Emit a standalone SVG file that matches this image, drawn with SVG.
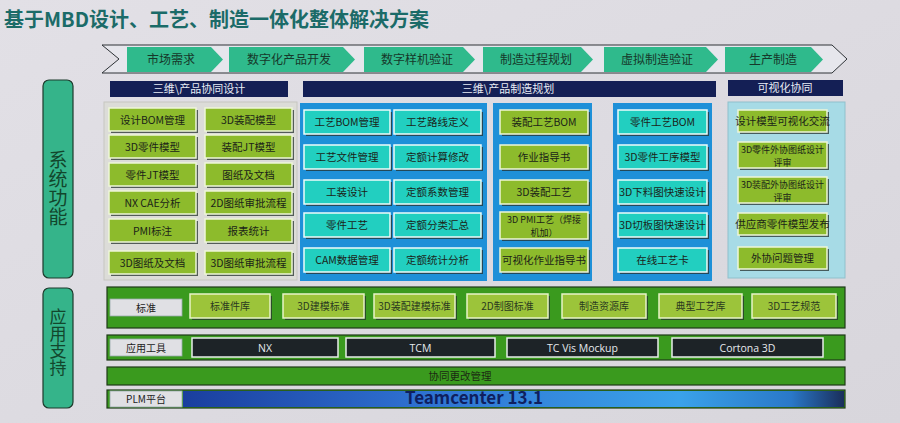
<svg xmlns="http://www.w3.org/2000/svg" width="900" height="423" viewBox="0 0 900 423">
<defs>
<linearGradient id="bg" x1="0" y1="0" x2="1" y2="1">
<stop offset="0" stop-color="#e2e0e6"/>
<stop offset="1" stop-color="#d8d6dc"/>
</linearGradient>
<linearGradient id="plm" x1="0" y1="0" x2="1" y2="0">
<stop offset="0" stop-color="#1a3e9e"/>
<stop offset="0.35" stop-color="#2e70d0"/>
<stop offset="0.75" stop-color="#3aa2ea"/>
<stop offset="0.92" stop-color="#2a78c8"/>
<stop offset="1" stop-color="#1a2e5a"/>
</linearGradient>
<style>
text{font-family:"Noto Sans CJK SC","Noto Sans",sans-serif;text-anchor:middle;}
.title{font-size:20px;font-weight:bold;fill:#1b6b68;text-anchor:start;}
.chev{fill:#2fba8c;}
.chevt{font-size:12px;fill:#16382a;}
.navy{fill:#141f55;}
.navyt{font-size:11px;fill:#e8ecf4;}
.side{fill:#35b48a;stroke:#1d3a2c;stroke-width:1.2;}
.sidet{fill:#12462c;writing-mode:vertical-rl;}
.sh{fill:#26312e;opacity:.75;}
.gb{fill:#8dbb2c;stroke:#eef6d8;stroke-width:1.5;}
.cb{fill:#22cfc0;stroke:#eefcfa;stroke-width:1.5;}
.bt{font-size:10.5px;fill:#1b2418;}
.bt2{font-size:9px;fill:#1b2418;}
.bp{fill:#1e90d8;}
.lbp{fill:#a7dbe6;stroke:#8fc0cc;stroke-width:1;}
.band{fill:#3a9a1e;stroke:#1f3a18;stroke-width:1.2;}
.lab{fill:#e0e0e4;stroke:#9aa;stroke-width:.8;}
.labt{font-size:10px;fill:#222;}
.sb{fill:#9cc43a;stroke:#e8f3c8;stroke-width:1.5;}
.st{font-size:10px;fill:#2a3a20;}
.db{fill:#1d2327;stroke:#e8eeea;stroke-width:1.5;}
.dt{font-size:10.5px;fill:#e6eaee;font-family:"Open Sans","Liberation Sans","Noto Sans CJK SC",sans-serif;}
</style>
</defs>
<rect x="0" y="0" width="900" height="423" fill="url(#bg)"/>
<text class="title" x="4" y="27">基于MBD设计、工艺、制造一体化整体解决方案</text>

<g id="process">
<polygon points="102,45 832,45 847,59 832,73 102,73 119,59" fill="#e6e6ec" stroke="#2e3236" stroke-width="1"/>
<g id="p1"><polygon class="chev" points="127,47 211,47 223,59.5 211,72 127,72"/><text class="chevt" x="171" y="64">市场需求</text></g>
<g id="p2"><polygon class="chev" points="229,47 343,47 355,59.5 343,72 229,72"/><text class="chevt" x="289" y="64">数字化产品开发</text></g>
<g id="p3"><polygon class="chev" points="364,47 463,47 475,59.5 463,72 364,72"/><text class="chevt" x="417" y="64">数字样机验证</text></g>
<g id="p4"><polygon class="chev" points="483,47 581,47 593,59.5 581,72 483,72"/><text class="chevt" x="536" y="64">制造过程规划</text></g>
<g id="p5"><polygon class="chev" points="604,47 706,47 718,59.5 706,72 604,72"/><text class="chevt" x="657" y="64">虚拟制造验证</text></g>
<g id="p6"><polygon class="chev" points="725,47 811,47 823,59.5 811,72 725,72"/><text class="chevt" x="773" y="64">生产制造</text></g>
</g>

<g id="headers">
<g id="h1"><rect class="navy" x="110" y="81" width="178" height="16"/><text class="navyt" x="199" y="93">三维\产品协同设计</text></g>
<g id="h2"><rect class="navy" x="303" y="81" width="413" height="16"/><text class="navyt" x="508" y="93">三维\产品制造规划</text></g>
<g id="h3"><rect class="navy" x="728" y="80" width="115" height="16"/><text class="navyt" x="785" y="92">可视化协同</text></g>
</g>

<g id="sys">
<rect class="side" x="43" y="80" width="30" height="198" rx="6"/>
<text class="sidet" x="58" y="188" font-size="19">系统功能</text>
</g>

<g id="design">
<rect x="104" y="102" width="193" height="178" fill="#dcdcd8" stroke="#c6c6c0" stroke-width="1"/>
<g id="d1"><rect class="sh" x="111" y="110" width="87" height="23"/><rect class="gb" x="109" y="108" width="87" height="23"/><text class="bt" x="152.5" y="123.5">设计BOM管理</text></g>
<g id="d2"><rect class="sh" x="207" y="110" width="87" height="23"/><rect class="gb" x="205" y="108" width="87" height="23"/><text class="bt" x="248.5" y="123.5">3D装配模型</text></g>
<g id="d3"><rect class="sh" x="111" y="137" width="87" height="23"/><rect class="gb" x="109" y="135" width="87" height="23"/><text class="bt" x="152.5" y="150.5">3D零件模型</text></g>
<g id="d4"><rect class="sh" x="207" y="137" width="87" height="23"/><rect class="gb" x="205" y="135" width="87" height="23"/><text class="bt" x="248.5" y="150.5">装配JT模型</text></g>
<g id="d5"><rect class="sh" x="111" y="165" width="87" height="23"/><rect class="gb" x="109" y="163" width="87" height="23"/><text class="bt" x="152.5" y="178.5">零件JT模型</text></g>
<g id="d6"><rect class="sh" x="207" y="165" width="87" height="23"/><rect class="gb" x="205" y="163" width="87" height="23"/><text class="bt" x="248.5" y="178.5">图纸及文档</text></g>
<g id="d7"><rect class="sh" x="111" y="193" width="87" height="23"/><rect class="gb" x="109" y="191" width="87" height="23"/><text class="bt" x="152.5" y="206.5">NX CAE分析</text></g>
<g id="d8"><rect class="sh" x="207" y="193" width="87" height="23"/><rect class="gb" x="205" y="191" width="87" height="23"/><text class="bt" x="248.5" y="206.5">2D图纸审批流程</text></g>
<g id="d9"><rect class="sh" x="111" y="221" width="87" height="23"/><rect class="gb" x="109" y="219" width="87" height="23"/><text class="bt" x="152.5" y="234.5">PMI标注</text></g>
<g id="d10"><rect class="sh" x="207" y="221" width="87" height="23"/><rect class="gb" x="205" y="219" width="87" height="23"/><text class="bt" x="248.5" y="234.5">报表统计</text></g>
<g id="d11"><rect class="sh" x="111" y="253" width="87" height="23"/><rect class="gb" x="109" y="251" width="87" height="23"/><text class="bt" x="152.5" y="266.5">3D图纸及文档</text></g>
<g id="d12"><rect class="sh" x="207" y="253" width="87" height="23"/><rect class="gb" x="205" y="251" width="87" height="23"/><text class="bt" x="248.5" y="266.5">3D图纸审批流程</text></g>
</g>

<g id="mfg1">
<rect class="bp" x="300" y="103" width="187" height="178"/>
<g id="m1"><rect class="sh" x="306" y="112" width="86" height="24"/><rect class="cb" x="304" y="110" width="86" height="24"/><text class="bt" x="347" y="126">工艺BOM管理</text></g>
<g id="m2"><rect class="sh" x="396" y="112" width="87" height="24"/><rect class="cb" x="394" y="110" width="87" height="24"/><text class="bt" x="437.5" y="126">工艺路线定义</text></g>
<g id="m3"><rect class="sh" x="306" y="147" width="86" height="24"/><rect class="cb" x="304" y="145" width="86" height="24"/><text class="bt" x="347" y="161">工艺文件管理</text></g>
<g id="m4"><rect class="sh" x="396" y="147" width="87" height="24"/><rect class="cb" x="394" y="145" width="87" height="24"/><text class="bt" x="437.5" y="161">定额计算修改</text></g>
<g id="m5"><rect class="sh" x="306" y="182" width="86" height="24"/><rect class="cb" x="304" y="180" width="86" height="24"/><text class="bt" x="347" y="196">工装设计</text></g>
<g id="m6"><rect class="sh" x="396" y="182" width="87" height="24"/><rect class="cb" x="394" y="180" width="87" height="24"/><text class="bt" x="437.5" y="196">定额系数管理</text></g>
<g id="m7"><rect class="sh" x="306" y="215" width="86" height="24"/><rect class="cb" x="304" y="213" width="86" height="24"/><text class="bt" x="347" y="229">零件工艺</text></g>
<g id="m8"><rect class="sh" x="396" y="215" width="87" height="24"/><rect class="cb" x="394" y="213" width="87" height="24"/><text class="bt" x="437.5" y="229">定额分类汇总</text></g>
<g id="m9"><rect class="sh" x="306" y="250" width="86" height="24"/><rect class="cb" x="304" y="248" width="86" height="24"/><text class="bt" x="347" y="264">CAM数据管理</text></g>
<g id="m10"><rect class="sh" x="396" y="250" width="87" height="24"/><rect class="cb" x="394" y="248" width="87" height="24"/><text class="bt" x="437.5" y="264">定额统计分析</text></g>
</g>

<g id="mfg2">
<rect class="bp" x="493" y="103" width="99" height="178"/>
<g id="a1"><rect class="sh" x="502" y="112" width="88" height="24"/><rect class="gb" x="500" y="110" width="88" height="24"/><text class="bt" x="544" y="126">装配工艺BOM</text></g>
<g id="a2"><rect class="sh" x="502" y="147" width="88" height="24"/><rect class="gb" x="500" y="145" width="88" height="24"/><text class="bt" x="544" y="161">作业指导书</text></g>
<g id="a3"><rect class="sh" x="502" y="182" width="88" height="24"/><rect class="gb" x="500" y="180" width="88" height="24"/><text class="bt" x="544" y="196">3D装配工艺</text></g>
<g id="a4"><rect class="sh" x="502" y="214" width="88" height="27"/><rect class="gb" x="500" y="212" width="88" height="27"/><text class="bt2" x="544" y="223">3D PMI工艺（焊接</text><text class="bt2" x="544" y="236.3">机加）</text></g>
<g id="a5"><rect class="sh" x="502" y="250" width="88" height="24"/><rect class="gb" x="500" y="248" width="88" height="24"/><text class="bt" x="544" y="264">可视化作业指导书</text></g>
</g>

<g id="mfg3">
<rect class="bp" x="613" y="103" width="99" height="178"/>
<g id="b1"><rect class="sh" x="620" y="112" width="89" height="24"/><rect class="cb" x="618" y="110" width="89" height="24"/><text class="bt" x="662.5" y="126">零件工艺BOM</text></g>
<g id="b2"><rect class="sh" x="620" y="147" width="89" height="24"/><rect class="cb" x="618" y="145" width="89" height="24"/><text class="bt" x="662.5" y="161">3D零件工序模型</text></g>
<g id="b3"><rect class="sh" x="620" y="182" width="89" height="24"/><rect class="cb" x="618" y="180" width="89" height="24"/><text class="bt" x="662.5" y="196">3D下料图快速设计</text></g>
<g id="b4"><rect class="sh" x="620" y="215" width="89" height="24"/><rect class="cb" x="618" y="213" width="89" height="24"/><text class="bt" x="662.5" y="229">3D切板图快速设计</text></g>
<g id="b5"><rect class="sh" x="620" y="250" width="89" height="24"/><rect class="cb" x="618" y="248" width="89" height="24"/><text class="bt" x="662.5" y="264">在线工艺卡</text></g>
</g>

<g id="vis">
<rect class="lbp" x="728" y="102" width="117" height="176"/>
<g id="v1"><rect class="sh" x="740" y="112" width="89" height="22"/><rect class="gb" x="738" y="110" width="89" height="22"/><text class="bt" x="782.5" y="125" font-size="9.8">设计模型可视化交流</text></g>
<g id="v2"><rect class="sh" x="740" y="144" width="89" height="26"/><rect class="gb" x="738" y="142" width="89" height="26"/><text class="bt2" x="782.5" y="153">3D零件外协图纸设计</text><text class="bt2" x="782.5" y="166.3">评审</text></g>
<g id="v3"><rect class="sh" x="740" y="179" width="89" height="26"/><rect class="gb" x="738" y="177" width="89" height="26"/><text class="bt2" x="782.5" y="188">3D装配外协图纸设计</text><text class="bt2" x="782.5" y="201.3">评审</text></g>
<g id="v4"><rect class="sh" x="740" y="215" width="89" height="22"/><rect class="gb" x="738" y="213" width="89" height="22"/><text class="bt" x="782.5" y="228" font-size="9.8">供应商零件模型发布</text></g>
<g id="v5"><rect class="sh" x="740" y="249" width="89" height="22"/><rect class="gb" x="738" y="247" width="89" height="22"/><text class="bt" x="782.5" y="262" font-size="9.8">外协问题管理</text></g>
</g>

<g id="support">
<rect class="side" x="43" y="288" width="30" height="120" rx="6"/>
<text class="sidet" x="58" y="342" font-size="17">应用支持</text>
</g>

<g id="standards">
<rect class="band" x="107" y="287" width="738" height="41"/>
<rect class="lab" x="110" y="299" width="72" height="17"/><text class="labt" x="146" y="311.5">标准</text>
<g id="s1"><rect class="sh" x="192" y="296" width="80" height="24"/><rect class="sb" x="190" y="294" width="80" height="24"/><text class="st" x="230" y="309.5">标准件库</text></g>
<g id="s2"><rect class="sh" x="285" y="296" width="81" height="24"/><rect class="sb" x="283" y="294" width="81" height="24"/><text class="st" x="323.5" y="309.5">3D建模标准</text></g>
<g id="s3"><rect class="sh" x="376" y="296" width="81" height="24"/><rect class="sb" x="374" y="294" width="81" height="24"/><text class="st" x="414.5" y="309.5">3D装配建模标准</text></g>
<g id="s4"><rect class="sh" x="469" y="296" width="81" height="24"/><rect class="sb" x="467" y="294" width="81" height="24"/><text class="st" x="507.5" y="309.5">2D制图标准</text></g>
<g id="s5"><rect class="sh" x="564" y="296" width="84" height="24"/><rect class="sb" x="562" y="294" width="84" height="24"/><text class="st" x="604" y="309.5">制造资源库</text></g>
<g id="s6"><rect class="sh" x="661" y="296" width="83" height="24"/><rect class="sb" x="659" y="294" width="83" height="24"/><text class="st" x="700.5" y="309.5">典型工艺库</text></g>
<g id="s7"><rect class="sh" x="754" y="296" width="84" height="24"/><rect class="sb" x="752" y="294" width="84" height="24"/><text class="st" x="794" y="309.5">3D工艺规范</text></g>
</g>

<g id="tools">
<rect class="band" x="107" y="335" width="738" height="25"/>
<rect class="lab" x="110" y="339" width="72" height="17"/><text class="labt" x="146" y="351.5">应用工具</text>
<g id="t1"><rect class="db" x="192" y="338" width="146" height="19"/><text class="dt" x="265" y="351.5">NX</text></g>
<g id="t2"><rect class="db" x="346" y="338" width="149" height="19"/><text class="dt" x="420.5" y="351.5">TCM</text></g>
<g id="t3"><rect class="db" x="507" y="338" width="151" height="19"/><text class="dt" x="582.5" y="351.5">TC Vis Mockup</text></g>
<g id="t4"><rect class="db" x="672" y="338" width="151" height="19"/><text class="dt" x="747.5" y="351.5">Cortona 3D</text></g>
</g>

<g id="change">
<rect class="band" x="107" y="367" width="738" height="18"/>
<text x="460" y="380" font-size="10.5" fill="#1a2a12">协同更改管理</text>
</g>

<g id="plm-platform">
<rect x="107" y="390" width="738" height="18" fill="#3a9a1e" stroke="#1f3a18" stroke-width="1.2"/>
<rect x="183" y="391" width="661" height="16" fill="url(#plm)"/>
<rect class="lab" x="110" y="391" width="72" height="16"/><text class="labt" x="146" y="403">PLM平台</text>
<text x="474" y="404" font-size="17" font-weight="bold" fill="#0f1f60" font-family="'Liberation Sans','Noto Sans CJK SC',sans-serif">Teamcenter 13.1</text>
</g>
</svg>
